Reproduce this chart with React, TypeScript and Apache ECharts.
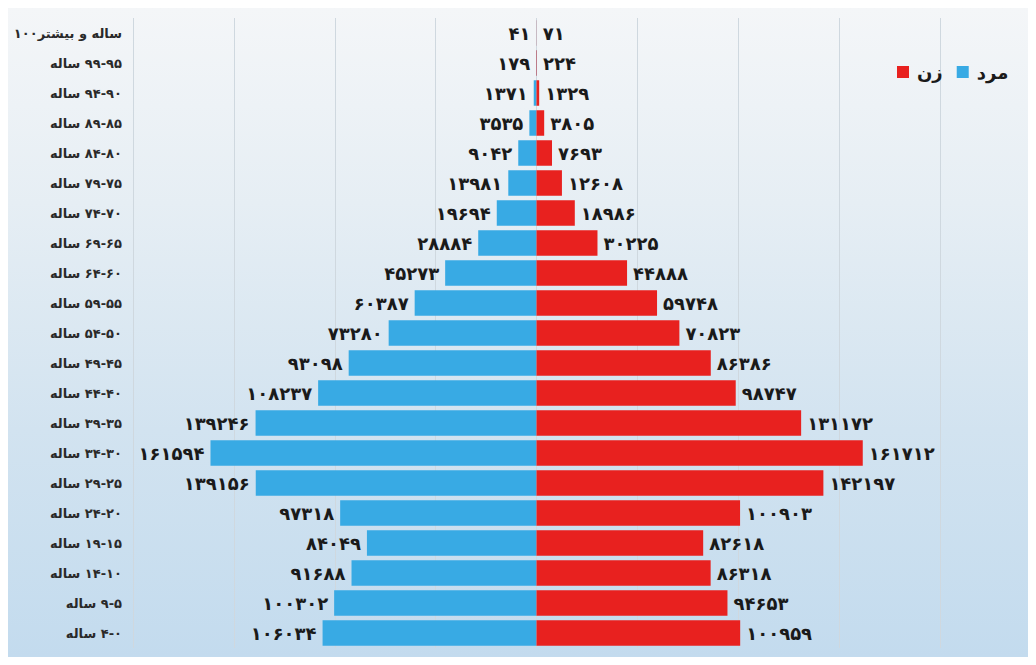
import React, { useEffect, useRef } from "react";
import * as echarts from "echarts";

// Age groups, top to bottom
const ageGroups = [
  "۱۰۰ساله و بیشتر",
  "۹۵-۹۹ ساله",
  "۹۰-۹۴ ساله",
  "۸۵-۸۹ ساله",
  "۸۰-۸۴ ساله",
  "۷۵-۷۹ ساله",
  "۷۰-۷۴ ساله",
  "۶۵-۶۹ ساله",
  "۶۰-۶۴ ساله",
  "۵۵-۵۹ ساله",
  "۵۰-۵۴ ساله",
  "۴۵-۴۹ ساله",
  "۴۰-۴۴ ساله",
  "۳۵-۳۹ ساله",
  "۳۰-۳۴ ساله",
  "۲۵-۲۹ ساله",
  "۲۰-۲۴ ساله",
  "۱۵-۱۹ ساله",
  "۱۰-۱۴ ساله",
  "۵-۹ ساله",
  "۰-۴ ساله",
];

const male = [
  41, 179, 1371, 3535, 9042, 13981, 19694, 28884, 45273, 60387, 73280, 93098,
  108237, 139246, 161594, 139156, 97318, 84049, 91688, 100302, 106034,
];

const female = [
  71, 224, 1329, 3805, 7693, 12608, 18986, 30225, 44888, 59748, 70823, 86386,
  98747, 131172, 161712, 142197, 100903, 82618, 86318, 94653, 100959,
];

const maleName = "مرد";
const femaleName = "زن";

const faDigits = "۰۱۲۳۴۵۶۷۸۹";
const toFa = (n: number) =>
  String(Math.round(Math.abs(n))).replace(/[0-9]/g, (d) => faDigits[+d]);

// Lay the label out right-to-left by splitting it into runs of one direction.
const rtlLabel = (s: string) => {
  const m = s.match(/^([۰-۹]+)-([۰-۹]+)\s*(.*)$/);
  if (m) return `{w|${m[3]}} {n|${m[2]}-${m[1]}}`;
  const m2 = s.match(/^([۰-۹]+)\s*(.*)$/);
  if (m2) return `{n|${m2[1]}}{w|${m2[2]}}`;
  return `{w|${s}}`;
};

const FONT = "'DejaVu Sans', 'Noto Sans', sans-serif";
const labelRich = {
  w: { fontFamily: FONT, fontWeight: "bold", fontSize: 13, color: "#2a2a2a" },
  n: { fontFamily: FONT, fontWeight: "bold", fontSize: 13, color: "#2a2a2a" },
};

export default function App() {
  const ref = useRef<HTMLDivElement>(null);
  useEffect(() => {
    if (!ref.current) return;
    const chart = echarts.init(ref.current, null, { renderer: "svg" });
    const valueLabel = {
      show: true,
      distance: 6,
      fontFamily: FONT,
      fontWeight: "bold",
      fontSize: 18,
      color: "#1a1a1a",
      formatter: (p: any) => toFa(p.value),
    };
    chart.setOption({
      animation: false,
      textStyle: { fontFamily: FONT },
      legend: {
        data: [femaleName, maleName],
        left: 884,
        top: 50,
        icon: "rect",
        itemWidth: 12,
        itemHeight: 12,
        itemGap: 14,
        textStyle: { fontFamily: FONT, fontWeight: "bold", fontSize: 18, color: "#1a1a1a", padding: [0, 0, 0, 3] },
      },
      grid: { left: 125, right: 96, top: 10, bottom: 9, containLabel: false },
      xAxis: {
        type: "value",
        min: -200000,
        max: 200000,
        interval: 50000,
        axisLabel: { show: false },
        axisLine: { show: false },
        axisTick: { show: false },
        splitLine: { show: true, lineStyle: { color: "#cfd8df", width: 1 } },
      },
      yAxis: {
        type: "category",
        inverse: true,
        data: ageGroups,
        axisLine: { show: false },
        axisTick: { show: false },
        axisLabel: {
          margin: 11,
          fontFamily: FONT,
          fontWeight: "bold",
          fontSize: 13,
          color: "#2a2a2a",
          formatter: (v: string) => rtlLabel(v),
          rich: labelRich,
        },
      },
      series: [
        {
          name: maleName,
          type: "bar",
          stack: "pop",
          data: male.map((v) => -v),
          barCategoryGap: "15%",
          itemStyle: { color: "#38aae4" },
          label: { ...valueLabel, position: "left" },
        },
        {
          name: femaleName,
          type: "bar",
          stack: "pop",
          data: female,
          barCategoryGap: "15%",
          itemStyle: { color: "#e8211f" },
          label: { ...valueLabel, position: "right" },
        },
      ],
    });
    return () => chart.dispose();
  }, []);
  return (
    <div
      ref={ref}
      style={{
        width: 1028,
        height: 649,
        background:
          "linear-gradient(to bottom, #f4f6f8 0%, #e6eef4 30%, #d2e3f0 65%, #c3dbee 100%)",
      }}
    />
  );
}
